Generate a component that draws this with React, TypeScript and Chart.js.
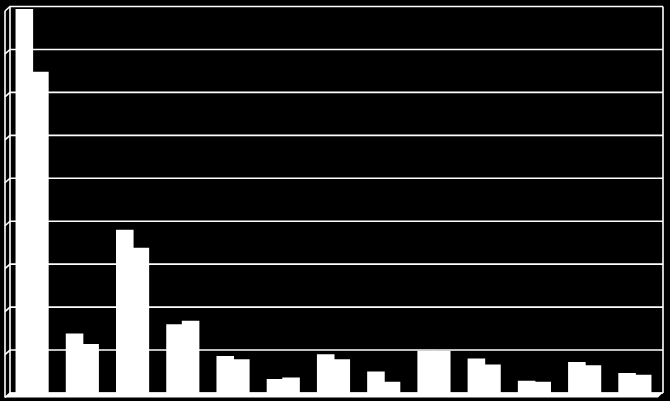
import React, { useEffect, useRef } from "react";
import { Chart, registerables } from "chart.js";

Chart.register(...registerables);

const categories = ["1", "2", "3", "4", "5", "6", "7", "8", "9", "10", "11", "12", "13"];
const seriesA = [446, 68, 189, 79, 42, 15, 44, 24, 48, 39, 13, 35, 22];
const seriesB = [373, 56, 168, 83, 38, 17, 38, 12, 48, 32, 12, 31, 20];
const yTicks = [0, 50, 100, 150, 200, 250, 300, 350, 400, 450];

const DEPTH_X = 3; // back wall offset from bar plane
const SIDE_DX = 5;
const SIDE_DY = 4.5;

const wall3d = {
  id: "wall3d",
  beforeDatasetsDraw(chart: any) {
    const { ctx, chartArea } = chart;
    const ys = chart.scales.y;
    const bl = chartArea.left + DEPTH_X;
    const br = chartArea.right + DEPTH_X;
    const top = ys.getPixelForValue(yTicks[yTicks.length - 1]);
    const bottom = ys.getPixelForValue(0);
    ctx.save();
    ctx.strokeStyle = "#ffffff";
    ctx.lineWidth = 1.6;
    yTicks.forEach((v) => {
      const py = ys.getPixelForValue(v);
      ctx.beginPath();
      ctx.moveTo(bl - SIDE_DX, py + SIDE_DY);
      ctx.lineTo(bl, py);
      ctx.lineTo(br, py);
      ctx.stroke();
    });
    ctx.beginPath();
    ctx.moveTo(bl, top);
    ctx.lineTo(bl, bottom);
    ctx.moveTo(br, top);
    ctx.lineTo(br, bottom);
    ctx.moveTo(bl - SIDE_DX, top + SIDE_DY);
    ctx.lineTo(bl - SIDE_DX, bottom + SIDE_DY);
    ctx.stroke();
    ctx.fillStyle = "#ffffff";
    ctx.beginPath();
    ctx.moveTo(bl, bottom - 0.5);
    ctx.lineTo(br, bottom - 0.5);
    ctx.lineTo(br - SIDE_DX, bottom + SIDE_DY);
    ctx.lineTo(bl - SIDE_DX, bottom + SIDE_DY);
    ctx.closePath();
    ctx.fill();
    ctx.restore();
  },
};

export default function App() {
  const ref = useRef<HTMLCanvasElement | null>(null);
  useEffect(() => {
    if (!ref.current) return;
    const chart = new Chart(ref.current, {
      type: "bar",
      data: {
        labels: categories,
        datasets: [
          { label: "A", data: seriesA, backgroundColor: "#ffffff", borderWidth: 0, inflateAmount: 1 },
          { label: "B", data: seriesB, backgroundColor: "#ffffff", borderWidth: 0, inflateAmount: 1 },
        ],
      },
      options: {
        animation: false,
        responsive: true,
        maintainAspectRatio: false,
        layout: { padding: { left: 7, right: 10, top: 6.5, bottom: 8 } },
        datasets: { bar: { categoryPercentage: 0.62, barPercentage: 1.0 } },
        plugins: { legend: { display: false }, tooltip: { enabled: false } },
        scales: {
          x: { display: false },
          y: { display: false, min: 0, max: 450 },
        },
      },
      plugins: [wall3d],
    });
    return () => chart.destroy();
  }, []);
  return (
    <div
      style={{
        position: "fixed",
        left: 0,
        top: 0,
        width: 670,
        height: 401,
        background: "#000000",
      }}
    >
      <canvas ref={ref} />
    </div>
  );
}
